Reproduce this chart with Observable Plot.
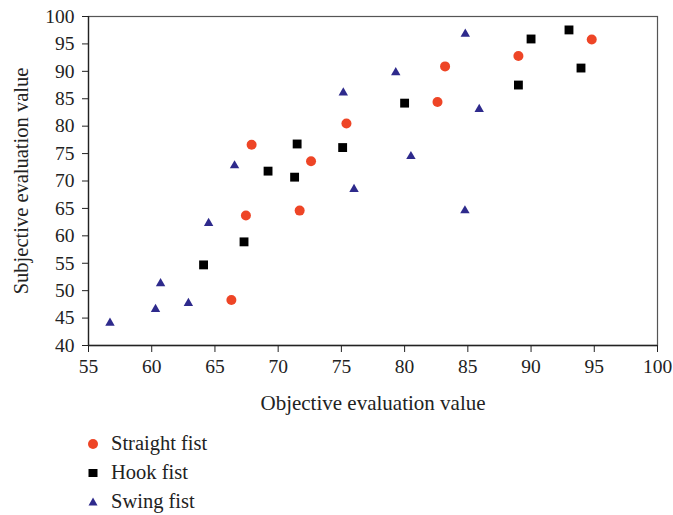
<!DOCTYPE html>
<html>
<head>
<meta charset="utf-8">
<script src="https://cdn.jsdelivr.net/npm/d3@7"></script>
<script src="https://cdn.jsdelivr.net/npm/@observablehq/plot@0.6"></script>
<style>
  body { margin: 0; background: #fff; font-family: "Liberation Serif", "DejaVu Serif", serif; }
  #chart { width: 673px; }
  .legend { margin-left: 84px; margin-top: 14px; }
  .legend div { display: flex; align-items: center; height: 29px; font-size: 20.5px; color: #222; }
  .legend svg { width: 18px; height: 18px; margin-right: 9px; }
</style>
</head>
<body>
<div id="chart"></div>
<script>
const seriesNames = ["Straight fist", "Hook fist", "Swing fist"];
const seriesColors = ["#ee4526", "#000000", "#2e2a8c"];

const straightX = [66.3, 67.45, 71.7, 67.9, 72.6, 83.2, 82.6, 75.4, 89.0, 94.8];
const straightY = [48.3, 63.7, 64.6, 76.6, 73.6, 90.9, 84.4, 80.5, 92.8, 95.8];

const hookX = [64.1, 67.3, 69.2, 71.3, 71.5, 75.1, 80.0, 89.0, 90.0, 93.0, 93.95];
const hookY = [54.7, 58.9, 71.8, 70.7, 76.75, 76.1, 84.2, 87.5, 95.9, 97.55, 90.6];

const swingX = [56.7, 60.3, 60.7, 62.9, 64.5, 66.55, 75.15, 79.3, 84.8, 85.9, 80.5, 76.0, 84.77];
const swingY = [44.1, 46.6, 51.3, 47.7, 62.3, 72.8, 86.1, 89.8, 96.8, 83.1, 74.5, 68.5, 64.6];

const xTicks = [55, 60, 65, 70, 75, 80, 85, 90, 95, 100];
const yTicks = [40, 45, 50, 55, 60, 65, 70, 75, 80, 85, 90, 95, 100];

const toRows = (xs, ys) => xs.map((x, i) => ({x, y: ys[i]}));
const straight = toRows(straightX, straightY);
const hook = toRows(hookX, hookY);
const swing = toRows(swingX, swingY);

const chart = Plot.plot({
  width: 673,
  height: 415,
  marginLeft: 88,
  marginRight: 16,
  marginTop: 16,
  marginBottom: 70,
  style: { fontFamily: "'Liberation Serif', 'DejaVu Serif', serif", color: "#222", background: "#fff" },
  x: { domain: [55, 100] },
  y: { domain: [40, 100] },
  marks: [
    Plot.frame({ stroke: "#555", strokeWidth: 1.2 }),
    Plot.axisX({ ticks: xTicks, tickSize: 7, tickPadding: 7, fontSize: 19.5, label: null, tickFormat: d => d }),
    Plot.axisY({ ticks: yTicks, tickSize: 6, tickPadding: 8, fontSize: 19.5, label: null, tickFormat: d => d }),
    Plot.axisX({ ticks: [], tickSize: 0, fontSize: 21, label: "Objective evaluation value", labelAnchor: "center", labelArrow: "none", labelOffset: 64 }),
    Plot.axisY({ ticks: [], tickSize: 0, fontSize: 20.5, label: "Subjective evaluation value", labelAnchor: "center", labelArrow: "none", labelOffset: 75 }),
    Plot.ruleX([55], { stroke: "#222", strokeWidth: 1.3 }),
    Plot.ruleY([40], { stroke: "#222", strokeWidth: 1.3 }),
    Plot.dot(straight, { x: "x", y: "y", symbol: "circle", r: 5, fill: seriesColors[0], stroke: "none" }),
    Plot.dot(hook, { x: "x", y: "y", symbol: "square", r: 5, fill: seriesColors[1], stroke: "none" }),
    Plot.dot(swing, { x: "x", y: "y", symbol: "triangle", r: 3.5, fill: seriesColors[2], stroke: "none" })
  ]
});
document.getElementById("chart").appendChild(chart);

const legend = document.createElement("div");
legend.className = "legend";
const shapes = [
  '<circle cx="9" cy="9" r="5"/>',
  '<rect x="4.5" y="5" width="9" height="8"/>',
  '<path d="M9,4.5 L13.5,12.5 L4.5,12.5 Z"/>'
];
seriesNames.forEach((name, i) => {
  const row = document.createElement("div");
  row.innerHTML = `<svg viewBox="0 0 18 18"><g fill="${seriesColors[i]}">${shapes[i]}</g></svg><span>${name}</span>`;
  legend.appendChild(row);
});
document.getElementById("chart").appendChild(legend);
</script>
</body>
</html>
